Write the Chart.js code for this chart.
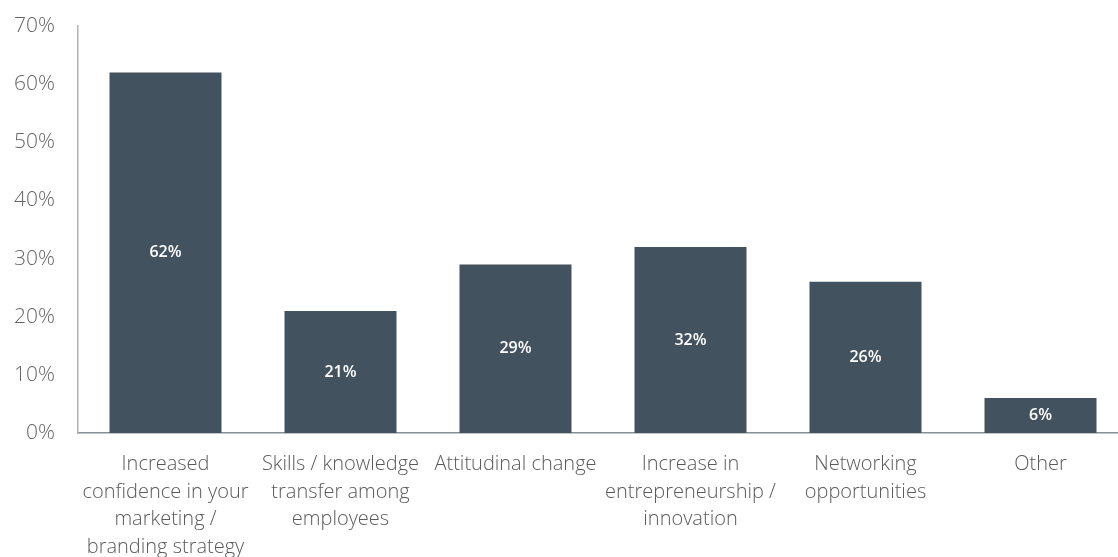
<!DOCTYPE html>
<html>
<head>
<meta charset="utf-8">
<script src="https://cdn.jsdelivr.net/npm/chart.js@4"></script>
<style>
  html, body { margin: 0; padding: 0; background: #fff; overflow: hidden; }
  #wrap { width: 1128px; height: 557px; }
</style>
</head>
<body>
<div id="wrap"><canvas id="benefitChart" width="1128" height="557"></canvas></div>
<script>
// categories (wrapped into lines) and share of respondents, in %
var categorias = [
    ["Increased", "confidence in your", "marketing /", "branding strategy"],
    ["Skills / knowledge", "transfer among", "employees"],
    ["Attitudinal change"],
    ["Increase in", "entrepreneurship /", "innovation"],
    ["Networking", "opportunities"],
    ["Other"]
];
var valores = [62, 21, 29, 32, 26, 6];
var ticksY = [0, 10, 20, 30, 40, 50, 60, 70];

var colorBarra = "#42535f";
var fuente = "'Open Sans'";

// writes the value in the middle of each bar
var etiquetas = {
    id: "etiquetas",
    afterDatasetsDraw: function (chart) {
        var ctx = chart.ctx;
        var meta = chart.getDatasetMeta(0);
        ctx.save();
        ctx.fillStyle = "#ffffff";
        ctx.font = "600 16px " + fuente;
        ctx.textAlign = "center";
        ctx.textBaseline = "middle";
        meta.data.forEach(function (bar, i) {
            ctx.fillText(valores[i] + "%", bar.x, (bar.y + bar.base) / 2);
        });
        ctx.restore();
    }
};

var ctx = document.getElementById("benefitChart").getContext("2d");
new Chart(ctx, {
    type: "bar",
    data: {
        labels: categorias,
        datasets: [{
            data: valores,
            backgroundColor: colorBarra,
            barPercentage: 0.8,
            categoryPercentage: 0.8
        }]
    },
    options: {
        responsive: false,
        animation: false,
        devicePixelRatio: 1,
        layout: { padding: { top: 26, right: 0, bottom: 0, left: 0 } },
        plugins: {
            legend: { display: false },
            tooltip: { enabled: false }
        },
        scales: {
            x: {
                afterFit: function (scale) { scale.height = 124; },
                grid: { display: false, drawTicks: false },
                border: { display: true, color: "#8a8f93", width: 1.5 },
                ticks: {
                    color: "#5a5a5a",
                    font: { family: fuente, size: 20, weight: 300, lineHeight: 1.375 },
                    padding: 18,
                    autoSkip: false,
                    maxRotation: 0
                }
            },
            y: {
                min: 0,
                max: 70,
                afterFit: function (scale) {
                    scale.width = 78;
                    scale.paddingTop = 0;
                    scale.paddingBottom = 0;
                },
                afterBuildTicks: function (scale) {
                    scale.ticks = ticksY.map(function (v) { return { value: v }; });
                },
                grid: { display: false, drawTicks: false },
                border: { display: true, color: "#b3b3b3", width: 1.5 },
                ticks: {
                    color: "#666666",
                    font: { family: fuente, size: 21, weight: 300 },
                    padding: 23,
                    callback: function (v) { return v + "%"; }
                }
            }
        }
    },
    plugins: [etiquetas]
});
</script>
</body>
</html>
